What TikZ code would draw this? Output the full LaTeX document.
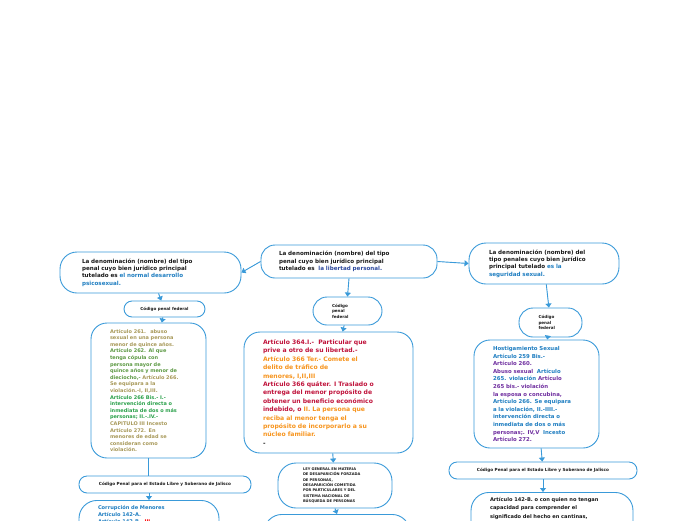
\documentclass[tikz,border=0pt]{standalone}
\usepackage{fontspec}
\setmainfont{DejaVu Sans}
\usetikzlibrary{arrows.meta}
\definecolor{lineblue}{HTML}{3A9AD9}
\definecolor{darkblue}{HTML}{2E4A9E}
\definecolor{midblue}{HTML}{1F7EC1}
\definecolor{artkhaki}{HTML}{A8995A}
\definecolor{artgreen}{HTML}{5E9A45}
\definecolor{artbright}{HTML}{2BA14B}
\definecolor{artcrimson}{HTML}{C0143C}
\definecolor{artorange}{HTML}{F7941D}
\definecolor{artpurple}{HTML}{7030A0}
\definecolor{inkblack}{HTML}{1A1A1A}
\begin{document}
\begin{tikzpicture}[x=1pt,y=-1pt,>={Triangle[length=4pt,width=6pt]},
  box/.style={draw=lineblue,line width=0.9pt,rounded corners=14pt,fill=white,align=left,inner ysep=2pt,text=inkblack},
  title/.style={box,font=\bfseries\fontsize{5.6}{7.4}\selectfont},
  code/.style={box,font=\bfseries\fontsize{4.1}{5.4}\selectfont},
  line/.style={->,draw=lineblue,fill=lineblue,line width=0.9pt}]
\clip (0,0) rectangle (696,520);
% top row
\node[title,minimum height=33pt,text width=140pt,inner xsep=18pt] (denomC) at (349,261.5) {La denominación (nombre) del tipo\\ penal cuyo bien jurídico principal\\ tutelado es \ {\color{darkblue}la libertad personal.}};
\node[title,minimum height=41pt,text width=137pt,inner xsep=22pt,rounded corners=17pt] (denomL) at (150.5,272.5) {La denominación (nombre) del tipo\\ penal cuyo bien jurídico principal\\ tutelado es {\color{midblue}el normal desarrollo\\ psicosexual.}};
\node[title,minimum height=41pt,text width=110pt,inner xsep=20pt,rounded corners=17pt] (denomR) at (544,263.5) {La denominación (nombre) del\\ tipo penales cuyo bien jurídico\\ principal tutelado {\color{midblue}es la\\ seguridad sexual.}};
% codigo penal federal
\node[code,align=center,minimum width=81pt,minimum height=16pt,rounded corners=8pt] (cpfL) at (164.5,309) {Código penal federal};
\node[code,minimum height=28pt,text width=31pt,inner xsep=19pt] (cpfC) at (347.5,311) {Código\\ penal\\ federal};
\node[code,minimum height=29pt,text width=24pt,inner xsep=19.5pt] (cpfR) at (550.5,322.5) {Código\\ penal\\ federal};
% articulos
\node[box,font=\bfseries\fontsize{5}{6.6}\selectfont,minimum height=135pt,text width=77pt,inner xsep=19pt,rounded corners=16pt] (artL) at (148.5,390.5) {\color{artkhaki}Artículo 261. \ abuso\\ sexual en una persona\\ menor de quince años.\\ {\color{artgreen}Artículo 262. Al que\\ tenga cópula con\\ persona mayor de\\ quince años y menor de\\ dieciocho,-} Artículo 266.\\ Se equipara a la\\ violación.-I, II,III.\\ {\color{artbright}Artículo 266 Bis.- I.-\\ intervención directa o\\ inmediata de dos o más\\ personas; II.-.IV.-}\\ CAPITULO III Incesto\\ Artículo 272. En\\ menores de edad se\\ consideran como\\ violación.};
\node[box,font=\bfseries\fontsize{6.1}{8.4}\selectfont,minimum height=121pt,text width=131pt,inner xsep=19pt,rounded corners=16pt] (artC) at (328.5,392.5) {{\color{artcrimson}Artículo 364.I.- \ Particular que\\ prive a otro de su libertad.-}\\ {\color{artorange}Artículo 366 Ter.- Comete el\\ delito de tráfico de\\ menores, I,II,III}\\ {\color{artcrimson}Artículo 366 quáter. I Traslado o\\ entrega del menor propósito de\\ obtener un beneficio económico\\ indebido, o }{\color{artorange}II. La persona que\\ reciba al menor tenga el\\ propósito de incorporarlo a su\\ núcleo familiar.}\\ -};
\node[box,font=\bfseries\fontsize{5.4}{7.6}\selectfont,minimum height=108pt,text width=87pt,inner xsep=19pt,rounded corners=16pt] (artR) at (536.5,394) {\color{midblue}Hostigamiento Sexual\\ Artículo 259 Bis.-\\ {\color{artpurple}Artículo 260.}\\ {\color{artpurple}Abuso sexual} \ Artículo\\ 265. violación {\color{artpurple}Artículo}\\ {\color{artpurple}265 bis.- violación\\ la esposa o concubina,}\\ Artículo 266. Se equipara\\ a la violación, II.-IIII.-\\ intervención directa o\\ inmediata de dos o más\\ {\color{artpurple}personas;. IV,V} \ Incesto\\ {\color{artpurple}Artículo 272.}};
% second level
\node[code,font=\bfseries\fontsize{4.2}{5.4}\selectfont,align=center,minimum width=172pt,minimum height=17pt,rounded corners=8pt] (jalL) at (165,484.5) {Código Penal para el Estado Libre y Soberano de Jalisco};
\node[box,font=\bfseries\fontsize{3.6}{5.3}\selectfont,minimum height=45pt,text width=64pt,inner xsep=25pt,rounded corners=18pt] (ley) at (335,485.5) {LEY GENERAL EN MATERIA\\ DE DESAPARICIÓN FORZADA\\ DE PERSONAS,\\ DESAPARICIÓN COMETIDA\\ POR PARTICULARES Y DEL\\ SISTEMA NACIONAL DE\\ BÚSQUEDA DE PERSONAS};
\node[code,font=\bfseries\fontsize{4.2}{5.4}\selectfont,align=center,minimum width=188pt,minimum height=17pt,rounded corners=8pt] (jalR) at (543,470.5) {Código Penal para el Estado Libre y Soberano de Jalisco};
% bottom row (cut off)
\node[box,anchor=north,font=\bfseries\fontsize{5.1}{7}\selectfont,text width=102pt,inner xsep=19pt,inner ysep=5pt,text depth=50pt,rounded corners=18pt] (botL) at (149,500) {\color{midblue}Corrupción de Menores\\ Artículo 142-A.\\ Artículo 142-B.- {\color{red}III}};
\node[box,anchor=north,minimum width=146pt,minimum height=40pt,rounded corners=18pt] (botC) at (337,514) {};
\node[box,anchor=north,font=\bfseries\fontsize{5.1}{8.3}\selectfont,text width=124pt,inner xsep=19pt,inner ysep=5pt,text depth=40pt,rounded corners=18pt] (botR) at (552,492) {Artículo 142-B. o con quien no tengan\\ capacidad para comprender el\\ significado del hecho en cantinas,};
% connectors
\draw[line] (denomC.west) -- (denomL.east);
\draw[line] (denomC.east) -- (denomR.west);
\draw[line] (denomL) -- (cpfL);
\draw[line] (cpfL) -- (artL);
\draw[line] (denomC.south) -- (cpfC.north);
\draw[line] (cpfC) -- (artC);
\draw[line] (denomR) -- (cpfR);
\draw[line] (cpfR) -- (artR);
\draw[line,-] (artL.south) -- (artL.south |- jalL.north);
\draw[line] (botL.north |- jalL.south) -- (botL.north);
\draw[line] (artC) -- (ley);
\draw[line] (ley.south) -- (botC.north);
\draw[line] (artR) -- (jalR);
\draw[line] (jalR.south) -- (jalR.south |- botR.north);
\end{tikzpicture}
\end{document}
